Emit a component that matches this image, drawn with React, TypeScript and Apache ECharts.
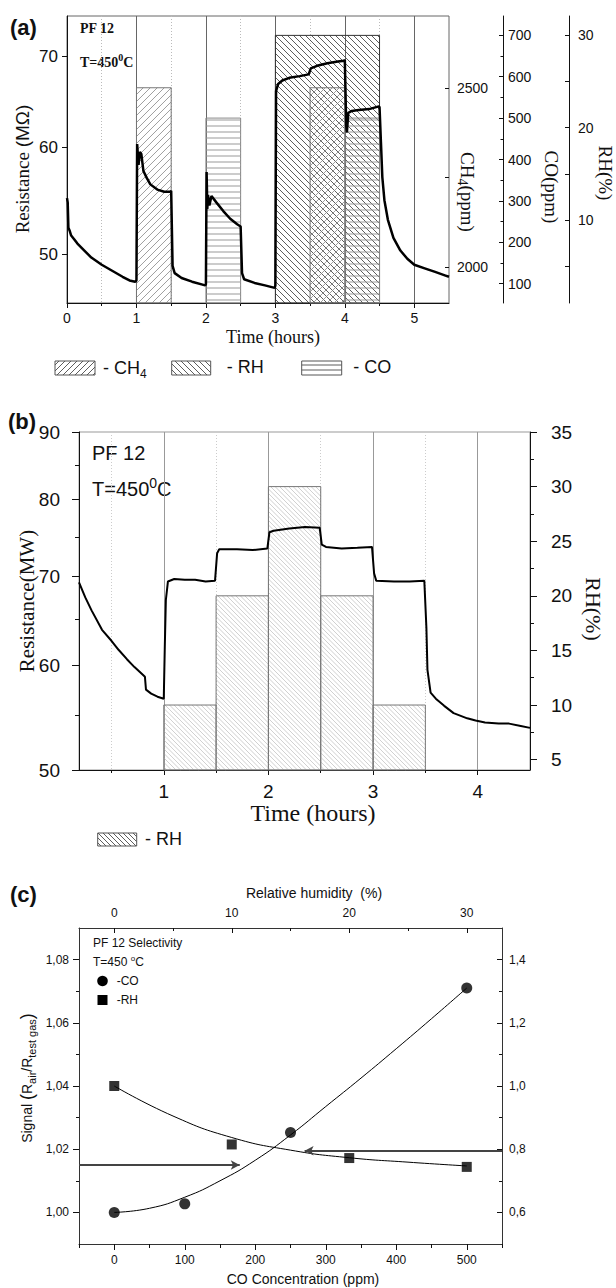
import React, { useEffect, useRef } from 'react';
import * as echarts from 'echarts';

// ---------------- Panel (a) data ----------------
const aTime = [0.0, 0.01, 0.02, 0.04, 0.06, 0.1, 0.15, 0.25, 0.35, 0.5, 0.65, 0.8, 0.9, 0.98, 1.0,
  1.01, 1.03, 1.05, 1.07, 1.1, 1.15, 1.2, 1.3, 1.4, 1.49, 1.5, 1.52, 1.55, 1.65, 1.8, 1.99, 2.0,
  2.01, 2.02, 2.03, 2.05, 2.08, 2.15, 2.25, 2.35, 2.45, 2.5, 2.52, 2.55, 2.7, 2.85, 2.99, 3.0,
  3.01, 3.04, 3.1, 3.2, 3.35, 3.48, 3.51, 3.6, 3.75, 3.9, 3.99, 4.0,
  4.02, 4.03, 4.05, 4.1, 4.2, 4.35, 4.49, 4.5, 4.52, 4.54, 4.57, 4.62, 4.7, 4.8, 4.9, 5.0, 5.15, 5.3, 5.45, 5.5];
const aResistance = [55.0, 54.6, 52.3, 52.0, 51.6, 51.3, 50.9, 50.3, 49.7, 49.1, 48.6, 48.1, 47.8, 47.7, 47.8,
  60.3, 58.2, 59.5, 59.3, 57.6, 56.9, 56.3, 55.8, 55.6, 55.6, 55.7, 49.0, 48.4, 48.0, 47.7, 47.4, 47.5,
  57.5, 54.0, 55.3, 54.3, 55.2, 54.6, 53.8, 53.1, 52.6, 52.4, 48.4, 47.9, 47.6, 47.4, 47.2, 47.4,
  66.0, 66.8, 67.2, 67.5, 67.7, 67.9, 68.6, 68.9, 69.2, 69.4, 69.5, 69.6,
  62.2, 61.5, 63.6, 63.8, 63.9, 64.0, 64.3, 64.2, 60.5, 57.0, 54.8, 53.0, 51.4, 50.3, 49.6, 49.1, 48.8, 48.5, 48.2, 48.1];
// [start hour, end hour, level]
const aCH4Boxes = [[1, 1.5, 2500], [3.5, 4, 2500]];
const aCOBoxes = [[2, 2.5, 500], [4, 4.5, 500]];
const aRHBoxes = [[3, 4.5, 30]];
const aHourLabels = [0, 1, 2, 3, 4, 5];
const aHalfHours = [0.5, 1.5, 2.5, 3.5, 4.5];
const aResLabels = [50, 60, 70];
const aCH4Labels = [2000, 2500];
const aCH4Ticks = [2000, 2250, 2500];
const aCOLabels = [100, 200, 300, 400, 500, 600, 700];
const aCOMinor = [150, 250, 350, 450, 550, 650];
const aRHLabels = [10, 20, 30];
const aRHTicks = [5, 10, 15, 20, 25, 30];

// ---------------- Panel (b) data ----------------
const bTime = [0.19, 0.25, 0.31, 0.41, 0.5, 0.57, 0.65, 0.72, 0.8, 0.82, 0.83, 0.88, 0.94, 1.0,
  1.01, 1.02, 1.04, 1.1, 1.2, 1.3, 1.4, 1.49, 1.51, 1.53, 1.7, 1.85, 1.99,
  2.01, 2.05, 2.2, 2.35, 2.49, 2.51, 2.55, 2.7, 2.85, 2.99, 3.01, 3.03, 3.2, 3.35, 3.49,
  3.51, 3.52, 3.55, 3.6, 3.68, 3.77, 3.9, 3.98, 4.07, 4.2, 4.3, 4.4, 4.5];
const bResistance = [69.3, 67.5, 66.0, 63.8, 62.6, 61.6, 60.6, 59.8, 59.0, 58.8, 57.5, 57.1, 56.8, 56.6,
  62.0, 67.2, 69.4, 69.7, 69.6, 69.6, 69.4, 69.5, 72.9, 73.4, 73.4, 73.3, 73.5,
  75.6, 75.8, 76.1, 76.3, 76.2, 74.0, 73.7, 73.5, 73.6, 73.7, 70.4, 69.5, 69.4, 69.4, 69.5,
  64.0, 59.5, 57.2, 56.6, 55.9, 55.2, 54.7, 54.5, 54.3, 54.2, 54.2, 54.0, 53.8];
const bRHBoxes = [[1, 1.5, 10], [1.5, 2, 20], [2, 2.5, 30], [2.5, 3, 20], [3, 3.5, 10]];
const bHourLabels = [1, 2, 3, 4];
const bHalfHours = [0.5, 1.5, 2.5, 3.5];
const bResLabels = [50, 60, 70, 80, 90];
const bResMinor = [55, 65, 75, 85];
const bRHLabels = [5, 10, 15, 20, 25, 30, 35];
const bRHMinor = [7.5, 12.5, 17.5, 22.5, 27.5, 32.5];

// ---------------- Panel (c) data ----------------
const coConc = [0, 100, 250, 500];
const coSignal = [1.0, 1.0027, 1.0253, 1.071];
const rhLevel = [0, 10, 20, 30];
const rhSignal = [1.0, 0.815, 0.772, 0.744];
const coFitConc = [0, 50, 100, 150, 200, 250, 300, 350, 400, 450, 500];
const coFitSignal = [1.0, 1.0013, 1.0048, 1.01, 1.0165, 1.0245, 1.0335, 1.0425, 1.0518, 1.0613, 1.071];
const rhFitLevel = [0, 5, 10, 15, 20, 25, 30];
const rhFitSignal = [1.0, 0.905, 0.837, 0.797, 0.773, 0.759, 0.747];
const arrowCO = [[-50, 1.015], [178, 1.015]];
const arrowRH = [[550, 1.0195], [270, 1.0195]];
const cCOLabels = [0, 100, 200, 300, 400, 500];
const cCOMinor = [-50, 50, 150, 250, 350, 450, 550];
const cRHLabels = [0, 10, 20, 30];
const cRHMinor = [5, 15, 25];
const cLeftLabels = [1.0, 1.02, 1.04, 1.06, 1.08];
const cLeftMinor = [1.01, 1.03, 1.05, 1.07];
const cRightLabels = [0.6, 0.8, 1.0, 1.2, 1.4];
const cRightMinor = [0.7, 0.9, 1.1, 1.3];

// ---------------- helpers ----------------
const SANS = 'Liberation Sans, Arial, Helvetica, sans-serif';
const SERIF = 'Liberation Serif, Times New Roman, serif';
const INK = '#111';

function hatchLines(x: number, y: number, w: number, h: number, kind: string, step: number): number[][] {
  const segs: number[][] = [];
  const x0 = x, x1 = x + w, y0 = y, y1 = y + h;
  if (kind === '-') {
    for (let yy = Math.ceil(y0 / step) * step; yy < y1; yy += step) segs.push([x0, yy, x1, yy]);
    return segs;
  }
  if (kind === '/') {
    for (let c = Math.ceil((x0 + y0) / step) * step; c <= x1 + y1; c += step) {
      const xa = Math.max(x0, c - y1), xb = Math.min(x1, c - y0);
      if (xb - xa > 0.5) segs.push([xa, c - xa, xb, c - xb]);
    }
  } else {
    for (let c = Math.ceil((x0 - y1) / step) * step; c <= x1 - y0; c += step) {
      const xa = Math.max(x0, c + y0), xb = Math.min(x1, c + y1);
      if (xb - xa > 0.5) segs.push([xa, xa - c, xb, xb - c]);
    }
  }
  return segs;
}

function hatchChildren(x: number, y: number, w: number, h: number, kind: string, step: number,
  color: string, lw: number, border: string) {
  const children: any[] = hatchLines(x, y, w, h, kind, step).map((s) => ({
    type: 'line', shape: { x1: s[0], y1: s[1], x2: s[2], y2: s[3] }, style: { stroke: color, lineWidth: lw },
  }));
  children.push({ type: 'rect', shape: { x, y, width: w, height: h }, style: { fill: 'none', stroke: border, lineWidth: 1 } });
  return children;
}

function hatchRender(kind: string, step: number, color: string, lw: number, border: string) {
  return (params: any, api: any) => {
    const x0 = api.value(0), x1 = api.value(1), top = api.value(2);
    const pA = api.coord([x0, top]);
    const pB = api.coord([x1, top]);
    const cs = params.coordSys;
    const bottom = cs.y + cs.height;
    return {
      type: 'group',
      children: hatchChildren(pA[0], pA[1], pB[0] - pA[0], bottom - pA[1], kind, step, color, lw, border),
    };
  };
}

function ax(o: any) {
  return Object.assign({
    type: 'value',
    axisLine: { show: false, onZero: false },
    axisTick: { show: false },
    axisLabel: { show: false },
    splitLine: { show: false },
    minorTick: { show: false },
    minorSplitLine: { show: false },
  }, o);
}
const line = (color = INK) => ({ show: true, onZero: false, lineStyle: { color, width: 1 } });
const ticks = (vals: number[], len: number, inside = false) => ({ show: true, customValues: vals, length: len, inside, lineStyle: { color: INK, width: 1 } });
const plain = (v: number) => String(v);
const labels = (vals: number[], size: number, margin: number, fmt: any = plain) => ({
  show: true, customValues: vals, fontSize: size, fontFamily: SANS, color: INK, margin, formatter: fmt,
});

function txt(x: number, y: number, text: string, style: any, rotation = 0) {
  return { type: 'text', x, y, rotation, style: Object.assign({ text, fill: INK, align: 'center', verticalAlign: 'middle' }, style) };
}

const comma2 = (v: number) => v.toFixed(2).replace('.', ',');
const comma1 = (v: number) => v.toFixed(1).replace('.', ',');

const zip = (a: number[], b: number[]) => a.map((v, i) => [v, b[i]]);

const option: any = {
  animation: false,
  backgroundColor: '#fff',
  grid: [
    { left: 67, top: 16, width: 382, height: 287, show: true, borderColor: '#666', borderWidth: 1, backgroundColor: 'transparent' },
    { left: 79, top: 432, width: 451, height: 338, show: true, borderColor: '#999', borderWidth: 1, backgroundColor: 'transparent' },
    { left: 79, top: 928, width: 423, height: 316 },
  ],
  xAxis: [
    // 0 a main
    ax({ gridIndex: 0, min: 0, max: 5.5, position: 'bottom', axisLine: line(), axisTick: ticks(aHourLabels, 5),
      axisLabel: labels(aHourLabels, 14, 8), splitLine: { show: true, lineStyle: { color: '#666', width: 1 } } }),
    // 1 a minor
    ax({ gridIndex: 0, min: 0, max: 5.5, position: 'bottom', axisTick: ticks(aHalfHours, 3),
      splitLine: { show: true, lineStyle: { color: '#bbb', width: 1, type: [1, 2] } } }),
    // 2 b main
    ax({ gridIndex: 1, min: 0.19, max: 4.5, position: 'bottom', axisLine: line(), axisTick: ticks(bHourLabels, 5),
      axisLabel: labels(bHourLabels, 19, 12), splitLine: { show: true, lineStyle: { color: '#999', width: 1 } } }),
    // 3 b minor
    ax({ gridIndex: 1, min: 0.19, max: 4.5, position: 'bottom', axisTick: ticks(bHalfHours, 3),
      splitLine: { show: true, lineStyle: { color: '#ccc', width: 1, type: [1, 2] } } }),
    // 4 c bottom main
    ax({ gridIndex: 2, min: -50, max: 550, position: 'bottom', axisLine: line('#333'), axisTick: ticks(cCOLabels, 6),
      axisLabel: labels(cCOLabels, 12, 10) }),
    // 5 c bottom minor
    ax({ gridIndex: 2, min: -50, max: 550, position: 'bottom', axisTick: ticks(cCOMinor, 4) }),
    // 6 c top main
    ax({ gridIndex: 2, min: -3, max: 33, position: 'top', axisLine: line('#333'), axisTick: ticks(cRHLabels, 5, true),
      axisLabel: labels(cRHLabels, 12, 9) }),
    // 7 c top minor
    ax({ gridIndex: 2, min: -3, max: 33, position: 'top', axisTick: ticks(cRHMinor, 3, true) }),
  ],
  yAxis: [
    // 0 a resistance (log)
    ax({ type: 'log', logBase: 10, gridIndex: 0, min: 46, max: 75, position: 'left', axisLine: line(),
      axisTick: ticks(aResLabels, 5), axisLabel: labels(aResLabels, 17, 9) }),
    // 1 a CH4
    ax({ gridIndex: 0, min: 1900, max: 2700, position: 'right', axisTick: ticks(aCH4Ticks, 4, true),
      axisLabel: labels(aCH4Labels, 14, 8) }),
    // 2 a CO
    ax({ gridIndex: 0, min: 53.5, max: 746.5, position: 'right', offset: 54, axisLine: line(),
      axisTick: ticks(aCOLabels, 4, true), axisLabel: labels(aCOLabels, 14, 5) }),
    // 3 a CO minor
    ax({ gridIndex: 0, min: 53.5, max: 746.5, position: 'right', offset: 54, axisTick: ticks(aCOMinor, 2.5, true) }),
    // 4 a RH
    ax({ gridIndex: 0, min: 1, max: 32.1, position: 'right', offset: 120, axisLine: line(),
      axisTick: ticks(aRHTicks, 4, true), axisLabel: labels(aRHLabels, 14, 9) }),
    // 5 b resistance (log)
    ax({ type: 'log', logBase: 10, gridIndex: 1, min: 50, max: 90, position: 'left', axisLine: line(),
      axisTick: ticks(bResLabels, 7), axisLabel: labels(bResLabels, 19, 19) }),
    // 6 b resistance minor
    ax({ type: 'log', logBase: 10, gridIndex: 1, min: 50, max: 90, position: 'left', axisTick: ticks(bResMinor, 4) }),
    // 7 b RH
    ax({ gridIndex: 1, min: 4.05, max: 35, position: 'right', axisLine: line(), axisTick: ticks(bRHLabels, 7),
      axisLabel: labels(bRHLabels, 19, 21) }),
    // 8 b RH minor
    ax({ gridIndex: 1, min: 4.05, max: 35, position: 'right', axisTick: ticks(bRHMinor, 4) }),
    // 9 c left
    ax({ gridIndex: 2, min: 0.99, max: 1.09, position: 'left', axisLine: line('#333'), axisTick: ticks(cLeftLabels, 6),
      axisLabel: labels(cLeftLabels, 12, 10, comma2) }),
    // 10 c left minor
    ax({ gridIndex: 2, min: 0.99, max: 1.09, position: 'left', axisTick: ticks(cLeftMinor, 3) }),
    // 11 c right
    ax({ gridIndex: 2, min: 0.5, max: 1.5, position: 'right', axisLine: line('#333'), axisTick: ticks(cRightLabels, 5, true),
      axisLabel: labels(cRightLabels, 12, 7, comma1) }),
    // 12 c right minor
    ax({ gridIndex: 2, min: 0.5, max: 1.5, position: 'right', axisTick: ticks(cRightMinor, 3, true) }),
  ],
  series: [
    // ---- panel a ----
    { type: 'custom', xAxisIndex: 0, yAxisIndex: 4, data: aRHBoxes, encode: { x: [0, 1], y: 2 }, z: 1,
      renderItem: hatchRender('\\', 6, '#333', 0.8, '#333') },
    { type: 'custom', xAxisIndex: 0, yAxisIndex: 1, data: aCH4Boxes, encode: { x: [0, 1], y: 2 }, z: 1,
      renderItem: hatchRender('/', 7, '#888', 0.8, '#777') },
    { type: 'custom', xAxisIndex: 0, yAxisIndex: 2, data: aCOBoxes, encode: { x: [0, 1], y: 2 }, z: 1,
      renderItem: hatchRender('-', 6, '#999', 1, '#888') },
    { type: 'line', xAxisIndex: 0, yAxisIndex: 0, data: zip(aTime, aResistance), showSymbol: false, z: 5,
      lineStyle: { color: '#000', width: 2.5 } },
    // ---- panel b ----
    { type: 'custom', xAxisIndex: 2, yAxisIndex: 7, data: bRHBoxes, encode: { x: [0, 1], y: 2 }, z: 1,
      renderItem: hatchRender('\\', 4.5, '#b0b0b0', 0.6, '#777') },
    { type: 'line', xAxisIndex: 2, yAxisIndex: 5, data: zip(bTime, bResistance), showSymbol: false, z: 5,
      lineStyle: { color: '#000', width: 2 } },
    // ---- panel c ----
    { type: 'line', xAxisIndex: 4, yAxisIndex: 9, data: zip(coFitConc, coFitSignal), smooth: true, showSymbol: false,
      lineStyle: { color: '#000', width: 1 }, z: 3,
      markLine: { silent: true, symbol: ['none', 'arrow'], symbolSize: [7, 9], label: { show: false },
        lineStyle: { color: '#444', width: 2, type: 'solid' },
        data: [[{ coord: arrowCO[0] }, { coord: arrowCO[1] }], [{ coord: arrowRH[0] }, { coord: arrowRH[1] }]] } },
    { type: 'scatter', xAxisIndex: 4, yAxisIndex: 9, data: zip(coConc, coSignal), symbol: 'circle', symbolSize: 11,
      itemStyle: { color: '#000' }, z: 6 },
    { type: 'line', xAxisIndex: 6, yAxisIndex: 11, data: zip(rhFitLevel, rhFitSignal), smooth: true, showSymbol: false,
      lineStyle: { color: '#000', width: 1 }, z: 3 },
    { type: 'scatter', xAxisIndex: 6, yAxisIndex: 11, data: zip(rhLevel, rhSignal), symbol: 'rect', symbolSize: 10,
      itemStyle: { color: '#000' }, z: 6 },
  ],
  graphic: [
    // panel labels
    txt(10, 27, '(a)', { font: `bold 22px ${SANS}`, align: 'left' }),
    txt(8, 421, '(b)', { font: `bold 22px ${SANS}`, align: 'left' }),
    txt(10, 894, '(c)', { font: `bold 22px ${SANS}`, align: 'left' }),
    // panel a texts
    txt(80, 28, 'PF 12', { font: `bold 14px ${SERIF}`, align: 'left' }),
    txt(80, 62, '{t|T=450}{s|0}{t|C}', { align: 'left', rich: {
      t: { fontFamily: SERIF, fontWeight: 'bold', fontSize: 14 },
      s: { fontFamily: SERIF, fontWeight: 'bold', fontSize: 10, padding: [0, 0, 10, 0] } } }),
    txt(22, 169, '{a|Resistance }{b|(MΩ)}', { rich: {
      a: { fontFamily: SERIF, fontSize: 19 }, b: { fontFamily: SANS, fontSize: 19 } } }, Math.PI / 2),
    txt(467, 192, '{a|CH}{s|4}{a|(ppm)}', { rich: {
      a: { fontFamily: SERIF, fontSize: 19 }, s: { fontFamily: SERIF, fontSize: 14, padding: [10, 0, 0, 0] } } }, -Math.PI / 2),
    txt(551.5, 187, 'CO(ppm)', { font: `19px ${SERIF}` }, -Math.PI / 2),
    txt(605.5, 173, 'RH(%)', { font: `19px ${SERIF}` }, -Math.PI / 2),
    txt(273, 337, 'Time (hours)', { font: `18px ${SERIF}` }),
    // panel a legend
    { type: 'group', children: hatchChildren(55, 361, 40, 14, '/', 6, '#333', 0.8, '#555') },
    txt(103, 368, '{a|- CH}{s|4}', { align: 'left', rich: {
      a: { fontFamily: SANS, fontSize: 18 }, s: { fontFamily: SANS, fontSize: 12, padding: [12, 0, 0, 0] } } }),
    { type: 'group', children: hatchChildren(171.7, 361, 39, 14, '\\', 6, '#333', 0.8, '#555') },
    txt(226.7, 367, '- RH', { font: `18px ${SANS}`, align: 'left' }),
    { type: 'group', children: hatchChildren(301.7, 361, 40, 14, '-', 5, '#333', 0.8, '#555') },
    txt(353.3, 367, '- CO', { font: `18px ${SANS}`, align: 'left' }),
    // panel b texts
    txt(92, 453, 'PF 12', { font: `20px ${SANS}`, align: 'left' }),
    txt(92, 489, '{t|T=450}{s|0}{t|C}', { align: 'left', rich: {
      t: { fontFamily: SANS, fontSize: 20 }, s: { fontFamily: SANS, fontSize: 14, padding: [0, 0, 12, 0] } } }),
    txt(27, 601, 'Resistance(MW)', { font: `21px ${SERIF}` }, Math.PI / 2),
    txt(593.5, 609, 'RH(%)', { font: `22px ${SERIF}` }, -Math.PI / 2),
    txt(313, 813, 'Time (hours)', { font: `24px ${SERIF}` }),
    { type: 'group', children: hatchChildren(97.7, 833, 39, 13, '\\', 5, '#333', 0.8, '#555') },
    txt(145, 839, '- RH', { font: `18px ${SANS}`, align: 'left' }),
    // panel c texts
    txt(314, 893, 'Relative humidity  (%)', { font: `14px ${SANS}` }),
    txt(303, 1279, 'CO Concentration (ppm)', { font: `14px ${SANS}` }),
    txt(27, 1078, '{n|Signal }{p|(}{n|R}{s|air}{n|/R}{s|test gas}{p|)}', { rich: {
      n: { fontFamily: SANS, fontSize: 14 }, p: { fontFamily: SANS, fontSize: 18 },
      s: { fontFamily: SANS, fontSize: 11, padding: [9, 0, 0, 0] } } }, Math.PI / 2),
    txt(93, 943, 'PF 12 Selectivity', { font: `12px ${SANS}`, align: 'left' }),
    txt(93, 962, '{t|T=450 }{s|o}{t|C}', { align: 'left', rich: {
      t: { fontFamily: SANS, fontSize: 12 }, s: { fontFamily: SANS, fontSize: 8, padding: [0, 0, 8, 0] } } }),
    { type: 'circle', shape: { cx: 102.5, cy: 981, r: 5.3 }, style: { fill: '#000' } },
    txt(116.7, 981, '-CO', { font: `12px ${SANS}`, align: 'left' }),
    { type: 'rect', shape: { x: 97.5, y: 995, width: 10, height: 10 }, style: { fill: '#000' } },
    txt(116.7, 1000, '-RH', { font: `12px ${SANS}`, align: 'left' }),
  ],
};

export default function App() {
  const ref = useRef<HTMLDivElement>(null);
  useEffect(() => {
    const chart = echarts.init(ref.current as HTMLDivElement, undefined, { renderer: 'svg' });
    chart.setOption(option);
    return () => chart.dispose();
  }, []);
  return <div ref={ref} style={{ position: 'absolute', left: 0, top: 0, width: 616, height: 1288, background: '#fff' }} />;
}
